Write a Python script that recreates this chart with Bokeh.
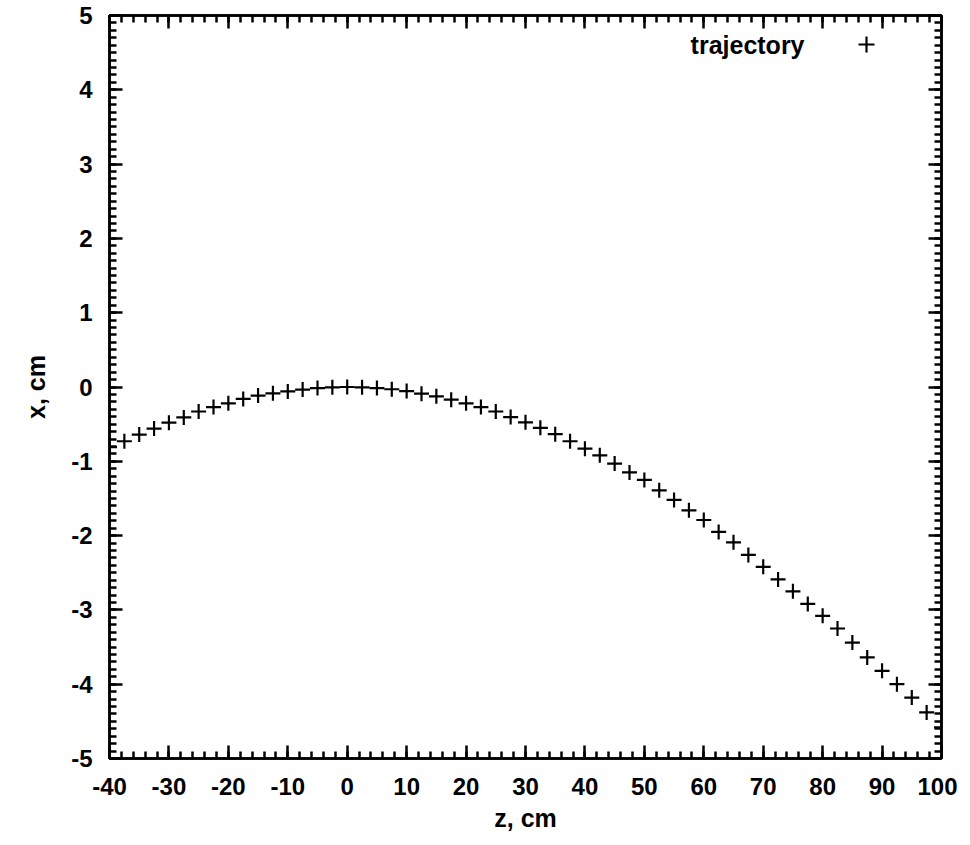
from bokeh.plotting import figure
from bokeh.models import (Range1d, LinearAxis, FixedTicker, Legend, LegendItem,
                          Label, CustomJSTickFormatter)
from bokeh.embed import file_html
from bokeh.resources import INLINE

# ---- data ----
z_cm = [-40, -37.5, -35, -32.5, -30, -27.5, -25, -22.5, -20, -17.5,
        -15, -12.5, -10, -7.5, -5, -2.5, 0, 2.5, 5, 7.5,
        10, 12.5, 15, 17.5, 20, 22.5, 25, 27.5, 30, 32.5,
        35, 37.5, 40, 42.5, 45, 47.5, 50, 52.5, 55, 57.5,
        60, 62.5, 65, 67.5, 70, 72.5, 75, 77.5, 80, 82.5,
        85, 87.5, 90, 92.5, 95, 97.5, 100]
x_cm = [-0.81, -0.73, -0.64, -0.56, -0.48, -0.41, -0.33, -0.27, -0.22, -0.16,
        -0.115, -0.085, -0.06, -0.035, -0.015, -0.005, 0.0, -0.005, -0.015, -0.03,
        -0.055, -0.09, -0.125, -0.17, -0.22, -0.27, -0.33, -0.405, -0.475, -0.55,
        -0.635, -0.73, -0.83, -0.92, -1.03, -1.15, -1.25, -1.39, -1.52, -1.66,
        -1.79, -1.95, -2.09, -2.26, -2.42, -2.59, -2.75, -2.92, -3.08, -3.25,
        -3.44, -3.64, -3.82, -4.0, -4.18, -4.38, -4.58]

x_ticks = [-40, -30, -20, -10, 0, 10, 20, 30, 40, 50, 60, 70, 80, 90, 100]
x_tick_labels = ["-40", "-30", "-20", "-10", "0", "10", "20", "30", "40",
                 "50", "60", "70", "80", "90", "100"]
y_ticks = [-5, -4, -3, -2, -1, 0, 1, 2, 3, 4, 5]
y_tick_labels = ["-5", "-4", "-3", "-2", "-1", "0", "1", "2", "3", "4", "5"]
x_minor = [-40 + 2 * i for i in range(71)]
y_minor = [round(-5 + 0.1 * i, 2) for i in range(101)]

series_label = "trajectory"
x_title = "z, cm"
y_title = "x, cm"

FONT = "Liberation Sans"

p = figure(frame_width=832, frame_height=743,
           x_range=Range1d(-40, 100), y_range=Range1d(-5, 5),
           output_backend="svg", toolbar_location=None,
           min_border_left=109, min_border_top=15,
           min_border_right=16, min_border_bottom=78,
           x_axis_label=x_title, y_axis_label=y_title)

p.xgrid.visible = False
p.ygrid.visible = False
p.outline_line_color = "black"
p.outline_line_width = 2.5
p.background_fill_color = "white"
p.border_fill_color = "white"


def style_axis(ax, ticks, minor, labels):
    ax.ticker = FixedTicker(ticks=ticks, minor_ticks=minor)
    ax.axis_line_color = "black"
    ax.axis_line_width = 2.5
    ax.major_tick_line_color = "black"
    ax.major_tick_line_width = 2.5
    ax.minor_tick_line_color = "black"
    ax.minor_tick_line_width = 2.5
    ax.major_tick_in = 13
    ax.major_tick_out = 0
    ax.minor_tick_in = 7
    ax.minor_tick_out = 0
    ax.major_label_text_font = FONT
    ax.major_label_text_font_style = "bold"
    ax.major_label_text_color = "black"
    ax.major_label_text_font_size = "24px"
    if labels is not None:
        ax.major_label_overrides = {t: s for t, s in zip(ticks, labels)}
    else:
        ax.formatter = CustomJSTickFormatter(code="return ''")
        ax.major_label_standoff = 0
    ax.axis_label_text_font = FONT
    ax.axis_label_text_font_style = "bold"
    ax.axis_label_text_font_size = "25px"
    ax.axis_label_text_color = "black"


xa = p.xaxis[0]
ya = p.yaxis[0]
style_axis(xa, x_ticks, x_minor, x_tick_labels)
style_axis(ya, y_ticks, y_minor, y_tick_labels)
xa.major_label_standoff = 19
xa.axis_label_standoff = 6
ya.major_label_standoff = 17
ya.axis_label_standoff = 18

top_ax = LinearAxis()
style_axis(top_ax, x_ticks, x_minor, None)
p.add_layout(top_ax, "above")
right_ax = LinearAxis()
style_axis(right_ax, y_ticks, y_minor, None)
p.add_layout(right_ax, "right")

r = p.scatter(z_cm, x_cm, marker="cross", size=15,
              line_color="black", line_width=2.2)

legend = Legend(items=[LegendItem(label=" ", renderers=[r])],
                location="top_right", margin=9, padding=0,
                border_line_color=None, background_fill_alpha=0,
                glyph_width=40, glyph_height=40, label_width=46,
                label_standoff=0, label_height=40, spacing=0,
                label_text_font_size="10px")
p.add_layout(legend)

p.add_layout(Label(x=76.95, y=4.6, text=series_label,
                   text_align="right", text_baseline="middle",
                   text_font=FONT, text_font_style="bold",
                   text_font_size="25px", text_color="black"))

open("out.html", "w").write(file_html(p, INLINE))
